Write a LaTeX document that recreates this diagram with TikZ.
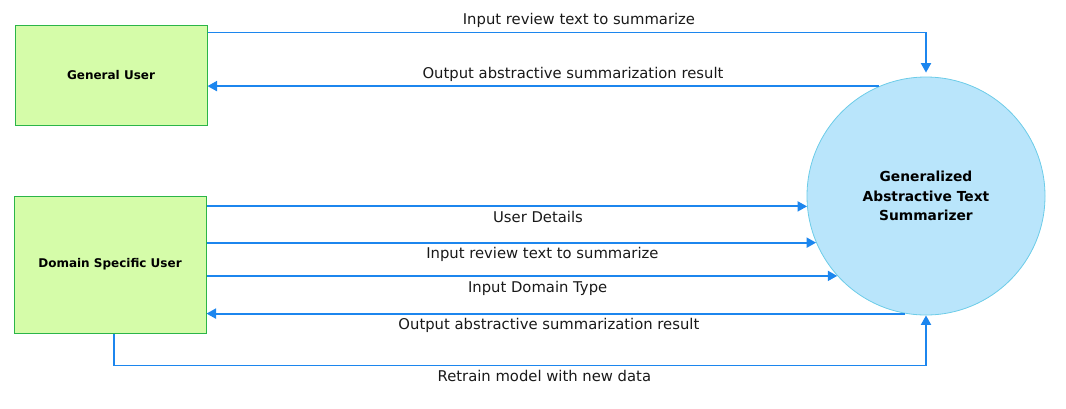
\documentclass[tikz,border=0pt]{standalone}
\usepackage{fontspec}
\setmainfont{DejaVu Sans}
\usetikzlibrary{arrows.meta}
\definecolor{userfill}{HTML}{D5FCA9}
\definecolor{userline}{HTML}{2BB548}
\definecolor{procfill}{HTML}{B9E5FB}
\definecolor{procline}{HTML}{6CCCE8}
\definecolor{flowblue}{HTML}{1C86EE}

\begin{document}
\begin{tikzpicture}[x=1pt,y=-1pt,
		user/.style={draw=userline, fill=userfill, line width=1pt, minimum width=192pt, inner sep=0pt, font=\fontsize{12}{14}\selectfont\bfseries},
		proc/.style={circle, draw=procline, fill=procfill, line width=0.8pt, minimum size=238pt, inner sep=0pt, align=center, font=\fontsize{13.8}{19.5}\selectfont\bfseries},
		flow/.style={draw=flowblue, line width=1.9pt, -{Triangle[length=9.5pt,width=10pt]}},
		lbl/.style={font=\fontsize{14.8}{17}\selectfont, text=black!90, inner sep=4pt}]
			\useasboundingbox (0,0) rectangle (1066,408);
			\node[user, minimum height=100pt] (gu) at (111,75) {General User};
			\node[user, minimum height=137pt] (dsu) at (110,264.5) {Domain Specific User};
			\node[proc] (sum) at (926,196) {Generalized\\Abstractive Text\\Summarizer};
			\coordinate (guin) at ([yshift=-8pt]gu.north east);
			\coordinate (dsuout) at ([xshift=4pt]dsu.south);
			\coordinate (rt) at ([yshift=-32pt]dsuout);
			\draw[flow, shorten >=4pt] (guin) -- node[lbl, above, pos=0.517]{Input review text to summarize} (guin -| sum.north) -- (sum.north);
			\draw[flow] (sum.113) -- node[lbl, above, pos=0.456]{Output abstractive summarization result} (sum.113 -| gu.east);
			\draw[flow] (dsu.east |- sum.185) -- node[lbl, below, pos=0.552]{User Details} (sum.185);
			\draw[flow] (dsu.east |- sum.203) -- node[lbl, below, pos=0.551]{Input review text to summarize} (sum.203);
			\draw[flow] (dsu.east |- sum.222) -- node[lbl, below, pos=0.525]{Input Domain Type} (sum.222);
			\draw[flow] (sum.260) -- node[lbl, below, pos=0.51]{Output abstractive summarization result} (sum.260 -| dsu.east);
			\draw[flow] (dsuout) -- (rt) -- node[lbl, below, pos=0.53]{Retrain model with new data} (rt -| sum.south) -- (sum.south);
			\end{tikzpicture}
\end{document}
